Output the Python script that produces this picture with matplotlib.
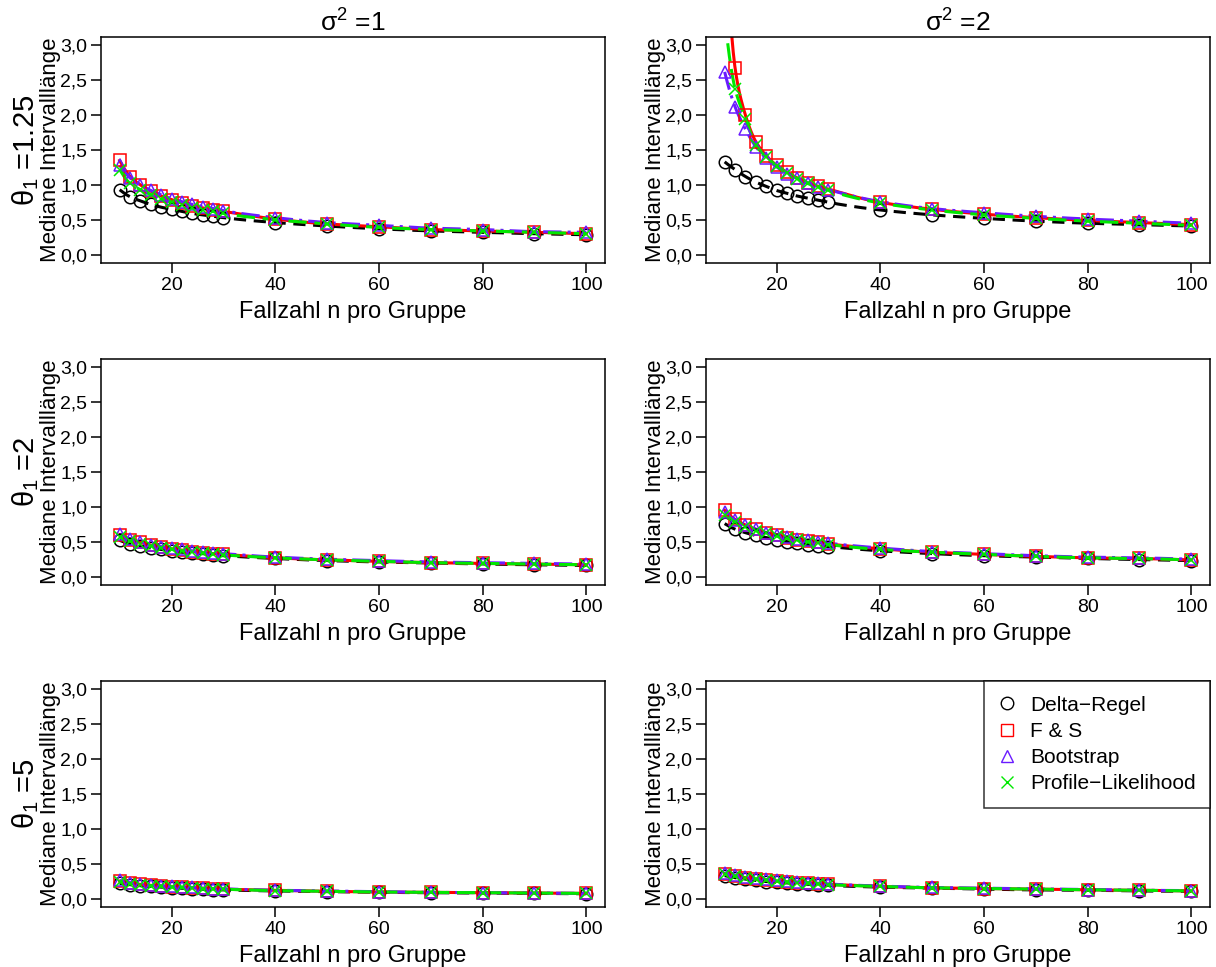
import numpy as np
import matplotlib
matplotlib.use("Agg")
import matplotlib.pyplot as plt
from matplotlib.lines import Line2D

plt.rcParams['font.family'] = ['Liberation Sans', 'DejaVu Sans']
plt.rcParams['mathtext.fontset'] = 'custom'
plt.rcParams['mathtext.rm'] = 'Liberation Sans'
plt.rcParams['mathtext.it'] = 'Liberation Sans'

# sample sizes per group
n_values = [10, 12, 14, 16, 18, 20, 22, 24, 26, 28, 30, 40, 50, 60, 70, 80, 90, 100]

# median interval lengths, theta1 = 1.25, sigma^2 = 1
delta_t125_s1 = [0.93, 0.83, 0.77, 0.72, 0.68, 0.65, 0.62, 0.59, 0.57, 0.55, 0.53, 0.46, 0.41, 0.37, 0.34, 0.32, 0.30, 0.285]
fs_t125_s1    = [1.35, 1.12, 1.00, 0.91, 0.84, 0.79, 0.74, 0.70, 0.67, 0.64, 0.62, 0.51, 0.44, 0.40, 0.36, 0.34, 0.32, 0.30]
boot_t125_s1  = [1.28, 1.10, 1.00, 0.92, 0.86, 0.80, 0.76, 0.72, 0.69, 0.66, 0.63, 0.53, 0.46, 0.42, 0.38, 0.36, 0.33, 0.32]
prof_t125_s1  = [1.22, 1.02, 0.93, 0.86, 0.80, 0.75, 0.71, 0.67, 0.64, 0.62, 0.59, 0.50, 0.44, 0.39, 0.36, 0.34, 0.32, 0.30]

# theta1 = 1.25, sigma^2 = 2
delta_t125_s2 = [1.33, 1.22, 1.12, 1.04, 0.98, 0.92, 0.88, 0.84, 0.81, 0.78, 0.75, 0.64, 0.57, 0.52, 0.48, 0.45, 0.43, 0.41]
fs_t125_s2    = [5.00, 2.68, 2.00, 1.62, 1.42, 1.28, 1.18, 1.10, 1.03, 0.98, 0.94, 0.75, 0.65, 0.58, 0.53, 0.49, 0.46, 0.43]
boot_t125_s2  = [2.62, 2.12, 1.80, 1.55, 1.38, 1.26, 1.16, 1.10, 1.03, 0.97, 0.93, 0.76, 0.66, 0.60, 0.55, 0.51, 0.48, 0.45]
prof_t125_s2  = [3.40, 2.38, 1.95, 1.57, 1.40, 1.27, 1.17, 1.09, 1.02, 0.97, 0.92, 0.74, 0.64, 0.57, 0.52, 0.48, 0.45, 0.42]

# theta1 = 2, sigma^2 = 1
delta_t2_s1 = [0.52, 0.47, 0.44, 0.41, 0.39, 0.37, 0.35, 0.34, 0.33, 0.31, 0.30, 0.26, 0.23, 0.21, 0.195, 0.18, 0.17, 0.16]
fs_t2_s1    = [0.60, 0.53, 0.49, 0.45, 0.42, 0.40, 0.38, 0.36, 0.34, 0.33, 0.32, 0.27, 0.24, 0.22, 0.20, 0.19, 0.18, 0.17]
boot_t2_s1  = [0.61, 0.54, 0.50, 0.46, 0.43, 0.41, 0.39, 0.37, 0.35, 0.34, 0.33, 0.28, 0.25, 0.23, 0.21, 0.20, 0.19, 0.18]
prof_t2_s1  = [0.57, 0.51, 0.47, 0.44, 0.41, 0.39, 0.37, 0.35, 0.34, 0.32, 0.31, 0.27, 0.24, 0.22, 0.20, 0.19, 0.18, 0.17]

# theta1 = 2, sigma^2 = 2
delta_t2_s2 = [0.76, 0.68, 0.63, 0.59, 0.56, 0.53, 0.50, 0.48, 0.46, 0.44, 0.43, 0.37, 0.33, 0.30, 0.28, 0.26, 0.245, 0.23]
fs_t2_s2    = [0.95, 0.82, 0.74, 0.68, 0.63, 0.60, 0.56, 0.53, 0.51, 0.49, 0.47, 0.40, 0.35, 0.32, 0.29, 0.27, 0.26, 0.24]
boot_t2_s2  = [0.93, 0.81, 0.74, 0.68, 0.63, 0.60, 0.57, 0.54, 0.52, 0.50, 0.48, 0.41, 0.36, 0.33, 0.30, 0.28, 0.27, 0.25]
prof_t2_s2  = [0.88, 0.78, 0.71, 0.66, 0.62, 0.58, 0.55, 0.52, 0.50, 0.48, 0.46, 0.39, 0.35, 0.32, 0.29, 0.27, 0.26, 0.24]

# theta1 = 5, sigma^2 = 1
delta_t5_s1 = [0.22, 0.20, 0.185, 0.175, 0.165, 0.155, 0.15, 0.14, 0.135, 0.13, 0.125, 0.11, 0.10, 0.09, 0.085, 0.08, 0.075, 0.07]
fs_t5_s1    = [0.25, 0.22, 0.205, 0.19, 0.18, 0.17, 0.16, 0.155, 0.15, 0.14, 0.135, 0.12, 0.105, 0.095, 0.09, 0.085, 0.08, 0.075]
boot_t5_s1  = [0.26, 0.23, 0.21, 0.195, 0.185, 0.175, 0.165, 0.16, 0.15, 0.145, 0.14, 0.12, 0.11, 0.10, 0.09, 0.085, 0.08, 0.075]
prof_t5_s1  = [0.24, 0.215, 0.20, 0.185, 0.175, 0.165, 0.16, 0.15, 0.145, 0.14, 0.135, 0.115, 0.105, 0.095, 0.09, 0.085, 0.08, 0.075]

# theta1 = 5, sigma^2 = 2
delta_t5_s2 = [0.33, 0.30, 0.28, 0.26, 0.245, 0.235, 0.225, 0.215, 0.205, 0.20, 0.19, 0.165, 0.15, 0.135, 0.125, 0.12, 0.11, 0.105]
fs_t5_s2    = [0.36, 0.33, 0.30, 0.28, 0.265, 0.25, 0.24, 0.23, 0.22, 0.21, 0.205, 0.175, 0.155, 0.145, 0.135, 0.125, 0.12, 0.11]
boot_t5_s2  = [0.37, 0.34, 0.31, 0.29, 0.275, 0.26, 0.25, 0.24, 0.23, 0.22, 0.21, 0.18, 0.16, 0.15, 0.14, 0.13, 0.12, 0.115]
prof_t5_s2  = [0.35, 0.32, 0.30, 0.28, 0.265, 0.25, 0.24, 0.23, 0.22, 0.21, 0.20, 0.175, 0.155, 0.145, 0.135, 0.125, 0.12, 0.11]

row_labels = ["θ$_1$ =1.25", "θ$_1$ =2", "θ$_1$ =5"]
col_titles = ["σ$^2$ =1", "σ$^2$ =2"]
method_names = ["Delta\u2212Regel", "F & S", "Bootstrap", "Profile\u2212Likelihood"]
y_ticks = [0.0, 0.5, 1.0, 1.5, 2.0, 2.5, 3.0]
x_ticks = [20, 40, 60, 80, 100]

panels = [
    [(delta_t125_s1, fs_t125_s1, boot_t125_s1, prof_t125_s1),
     (delta_t125_s2, fs_t125_s2, boot_t125_s2, prof_t125_s2)],
    [(delta_t2_s1, fs_t2_s1, boot_t2_s1, prof_t2_s1),
     (delta_t2_s2, fs_t2_s2, boot_t2_s2, prof_t2_s2)],
    [(delta_t5_s1, fs_t5_s1, boot_t5_s1, prof_t5_s1),
     (delta_t5_s2, fs_t5_s2, boot_t5_s2, prof_t5_s2)],
]

boot_color = "#6A1BFF"
styles = [
    dict(color="black", marker="o", ls=(0, (4, 2.5))),
    dict(color="#FF0000", marker="s", ls="-"),
    dict(color=boot_color, marker="^", ls=(0, (6, 2, 1, 2))),
    dict(color="#00E800", marker="x", ls=(0, (6, 2.5))),
]


def smooth_curve(nv, yv, num=600):
    """Monotone (Fritsch-Carlson) cubic through the points in log-log space."""
    x = np.log(np.asarray(nv, float))
    y = np.log(np.asarray(yv, float))
    h = np.diff(x)
    d = np.diff(y) / h
    m = np.zeros_like(y)
    m[0], m[-1] = d[0], d[-1]
    for k in range(1, len(x) - 1):
        if d[k - 1] * d[k] > 0:
            w1 = 2 * h[k] + h[k - 1]
            w2 = h[k] + 2 * h[k - 1]
            m[k] = (w1 + w2) / (w1 / d[k - 1] + w2 / d[k])
    xs = np.log(np.linspace(nv[0], nv[-1], num))
    idx = np.clip(np.searchsorted(x, xs) - 1, 0, len(x) - 2)
    t = (xs - x[idx]) / h[idx]
    h00 = 2 * t**3 - 3 * t**2 + 1
    h10 = t**3 - 2 * t**2 + t
    h01 = -2 * t**3 + 3 * t**2
    h11 = t**3 - t**2
    ys = (h00 * y[idx] + h10 * h[idx] * m[idx]
          + h01 * y[idx + 1] + h11 * h[idx] * m[idx + 1])
    return np.exp(xs), np.exp(ys)


fig = plt.figure(figsize=(12.16, 9.67), dpi=100)
lefts = [101 / 1216, 706 / 1216]
bottoms = [704 / 967, 382 / 967, 60 / 967]
w, h = 504 / 1216, 226 / 967

for r in range(3):
    for c in range(2):
        ax = fig.add_axes([lefts[c], bottoms[r], w, h])
        for series, st in zip(panels[r][c], styles):
            gx, gy = smooth_curve(n_values, series)
            ax.plot(gx, gy, color=st["color"], ls=st["ls"], lw=2.2, zorder=2)
            ms = 9 if st["marker"] != "x" else 8
            ax.plot(n_values, series, ls="none", marker=st["marker"], ms=ms,
                    mfc="none", mec=st["color"], mew=1.1, zorder=3)
        ax.set_xlim(6.4, 103.6)
        ax.set_ylim(-0.12, 3.12)
        ax.set_xticks(x_ticks)
        ax.set_yticks(y_ticks)
        ax.set_yticklabels([f"{v:.1f}".replace(".", ",") for v in y_ticks])
        ax.tick_params(direction="out", length=7, width=1.1, labelsize=14,
                       pad=3, colors="black")
        for sp in ax.spines.values():
            sp.set_linewidth(1.1)
        ax.set_xlabel("Fallzahl n pro Gruppe", fontsize=17, labelpad=5)
        ax.set_ylabel("Mediane Intervalllänge", fontsize=16, labelpad=-1)
        if r == 0:
            ax.set_title(col_titles[c], fontsize=19, pad=4)
        if c == 0:
            ax.text(-0.150, 0.5, row_labels[r], transform=ax.transAxes,
                    rotation=90, ha="center", va="center", fontsize=21)
        if r == 2 and c == 1:
            handles = [Line2D([], [], ls="none", marker=st["marker"], ms=9,
                              mfc="none", mec=st["color"], mew=1.0)
                       for st in styles]
            leg = ax.legend(handles, method_names, loc="upper right",
                            borderaxespad=0, fontsize=15, frameon=True,
                            fancybox=False, edgecolor="black",
                            handlelength=0.8, handletextpad=0.7,
                            labelspacing=0.35, borderpad=0.7)
            leg.get_frame().set_linewidth(1.1)

fig.savefig("out.png", dpi=100)
